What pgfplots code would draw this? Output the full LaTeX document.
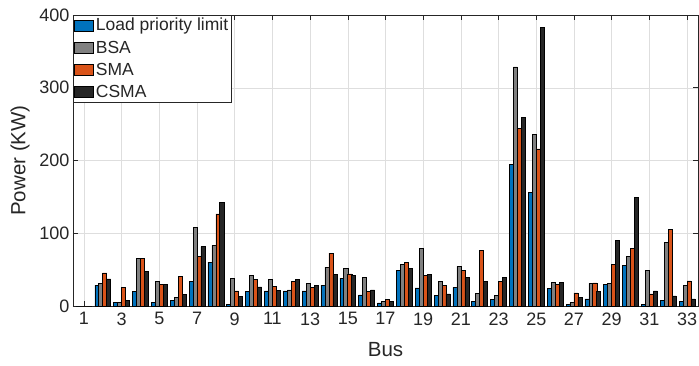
\documentclass[border=0pt]{standalone}
\usepackage{pgfplots}
\pgfplotsset{compat=1.18}
\usepackage{pgfplotstable}
\usepackage{fontspec}
\setmainfont{Liberation Sans}
\definecolor{mblue}{rgb}{0,0.447,0.741}
\definecolor{mgray}{rgb}{0.5,0.5,0.5}
\definecolor{morange}{rgb}{0.85,0.325,0.098}
\definecolor{mblack}{rgb}{0.15,0.15,0.15}
\definecolor{txt}{rgb}{0.15,0.15,0.15}
\pgfplotstableread{
bus L B S C
1 0 0 0 0
2 28.6 31 45.6 37.3
3 4.6 5.5 25.4 7.4
4 20.3 65.5 65.5 47.9
5 4.6 34.1 29.5 29.5
6 7.9 11.6 40.6 16.2
7 34.1 107.7 68.2 81.5
8 60.4 83.4 126.7 142.3
9 2.3 37.8 20.7 13.4
10 20.3 42 36.5 26.3
11 20.7 36.5 27.2 21.7
12 20.7 22.1 34.1 36.5
13 20.7 31.4 25.4 28.6
14 28.6 53.5 72.8 42.9
15 38.3 51.6 44.2 42
16 15.2 39.6 20.3 22.1
17 4.2 6.5 8.8 6.5
18 49.3 57.2 59.9 51.6
19 24.9 78.7 42 43.8
20 15 33.7 28.6 16.6
21 25.6 54.4 48.8 39
22 6 17.1 76.5 33.4
23 9 14.3 34.3 39
24 194.3 328.7 243.6 258.8
25 156 236.2 216 383.1
26 24 32.3 30 32.3
27 2.3 4.6 18 12
28 9.7 31 31.8 20.3
29 29.5 31 57.6 90.7
30 55.8 68.2 79.7 148.8
31 2.3 49.3 16.6 20.7
32 7.4 87.6 105.5 13.8
33 6.5 28.2 34.5 9.7
}\datatable
\begin{document}
\begin{tikzpicture}
\useasboundingbox (-73pt,-59pt) rectangle (626pt,306pt);
\begin{axis}[
  at={(0,0)}, anchor=south west,
  scale only axis, width=625pt, height=291pt,
  xmin=0.42, xmax=33.58, ymin=0, ymax=400,
  xtick={1,3,...,33}, ytick={0,100,...,400},
  tick align=inside, major tick length=5pt,
  xtick pos=both, ytick pos=both,
  grid=major, major grid style={draw=black!13, line width=0.5pt},
  axis line style={draw=txt, line width=0.6pt},
  every tick/.style={draw=txt, line width=0.6pt},
  tick label style={font=\fontsize{18}{20}\selectfont, text=txt},
  /pgf/number format/assume math mode=true,
  xticklabel style={yshift=-3pt},
  xlabel={Bus}, ylabel={Power (KW)},
  every axis x label/.style={at={(axis description cs:0.5,-0.151)}, anchor=center, font=\fontsize{20.5}{23}\selectfont, text=txt},
  every axis y label/.style={at={(axis description cs:-0.0848,0.5)}, anchor=center, rotate=90, font=\fontsize{20.5}{23}\selectfont, text=txt},
  legend style={at={(0,1)}, anchor=north west, draw=txt, line width=0.6pt,
    font=\fontsize{17.5}{19}\selectfont, text=txt, inner sep=1pt,
    row sep=4.5pt, legend cell align=left},
  legend image code/.code={\draw[#1, line width=0.6pt] (0pt,-5.5pt) rectangle (19pt,5.5pt);},
  every axis plot/.append style={ybar, bar width=0.215, draw=black, line width=0.6pt},
]
\addplot[fill=mblue, bar shift=-0.315] table[x=bus,y=L]{\datatable};
\addplot[fill=mgray, bar shift=-0.105] table[x=bus,y=B]{\datatable};
\addplot[fill=morange, bar shift=0.105] table[x=bus,y=S]{\datatable};
\addplot[fill=mblack, bar shift=0.315] table[x=bus,y=C]{\datatable};
\legend{Load priority limit,BSA,SMA,CSMA}
\end{axis}
\end{tikzpicture}
\end{document}
